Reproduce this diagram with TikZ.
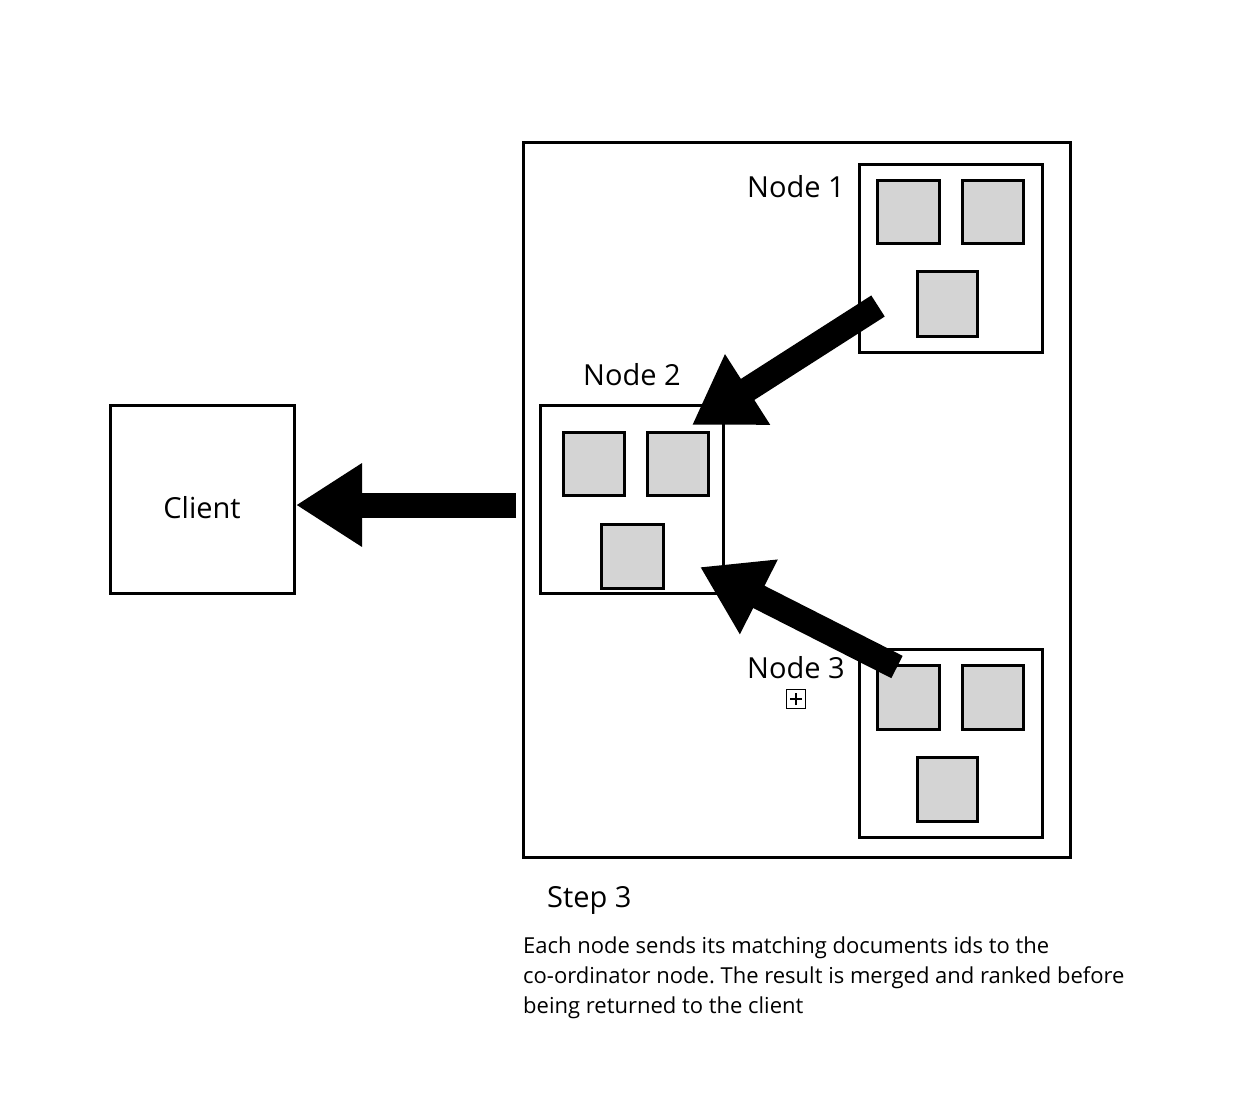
\documentclass[tikz,border=0pt]{standalone}
\usepackage{fontspec}
\setmainfont{Open Sans}
\usetikzlibrary{arrows.meta}
\frenchspacing
\tikzset{
  box/.style={draw=black, line width=3pt, fill=white},
  shard/.style={draw=black, line width=3pt, fill=black!17},
  lbl/.style={font=\fontsize{29}{34}\selectfont, inner sep=0pt},
  bigarrow/.style={line width=25pt, -{Triangle[length=66pt,width=79pt]}},
}
\begin{document}
\begin{tikzpicture}[x=1pt,y=-1pt]
\useasboundingbox (0,0) rectangle (1250,1104);
% client
\draw[box] (110,405) rectangle (294,593);
\node[lbl] (client) at (202,508) {Client};
\coordinate (clientE) at (296,505);
% cluster
\draw[box] (523,142) rectangle (1070,857);
% node 1
\draw[box] (859,164) rectangle (1042,352);
\draw[shard] (877,180) rectangle (939,243);
\draw[shard] (962,180) rectangle (1023,243);
\draw[shard] (917,271) rectangle (977,336);
\node[lbl] (n1) at (796,187) {Node 1};
% node 2
\draw[box] (540,405) rectangle (723,593);
\draw[shard] (563,432) rectangle (624,495);
\draw[shard] (647,432) rectangle (708,495);
\draw[shard] (601,524) rectangle (663,588);
\node[lbl] (n2) at (632,375) {Node 2};
% node 3
\draw[box] (859,649) rectangle (1042,837);
\draw[shard] (877,665) rectangle (939,729);
\draw[shard] (962,665) rectangle (1023,729);
\draw[shard] (917,757) rectangle (977,821);
\node[lbl] (n3) at (796,668) {Node 3};
\node[draw=black, line width=1.5pt, minimum size=19pt, inner sep=0pt] (plus) at (796,699) {};
\draw[line width=1.3pt] ([xshift=-6pt]plus.center) -- ([xshift=6pt]plus.center);
\draw[line width=1.3pt] ([yshift=-6pt]plus.center) -- ([yshift=6pt]plus.center);
% arrows
\coordinate (a0s) at (516,505);
\coordinate (a1s) at (878,306);
\coordinate (a1e) at (692,425);
\coordinate (a3s) at (897,667);
\coordinate (a3e) at (700,567);
\draw[bigarrow] (a0s) -- (clientE);
\draw[bigarrow] (a1s) -- (a1e);
\draw[bigarrow] (a3s) -- (a3e);
% text
\node[lbl, anchor=west] (step) at (547,900) {Step 3};
\node[anchor=north west, inner sep=0pt, align=left, font=\fontsize{22}{30}\selectfont] (desc) at (523,937) {Each node sends its matching documents ids to the\\co-ordinator node. The result is merged and ranked before\\being returned to the client};
\end{tikzpicture}
\end{document}
